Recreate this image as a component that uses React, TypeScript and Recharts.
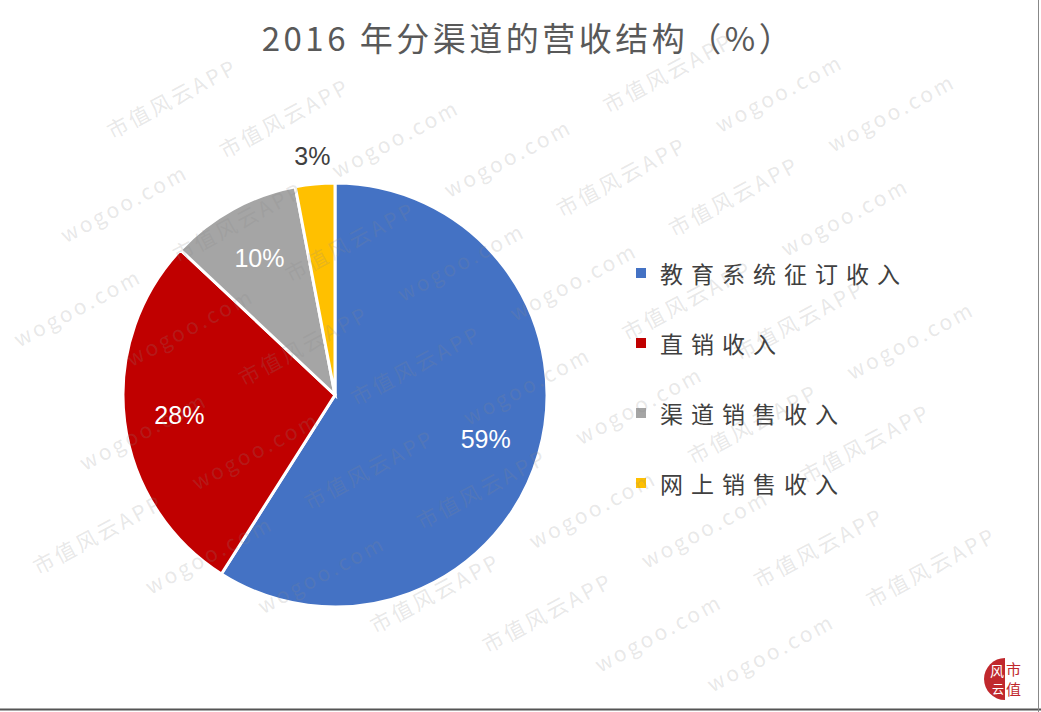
import React from 'react';
import { PieChart, Pie, Cell, Legend } from 'recharts';

const CATEGORIES = ['教育系统征订收入', '直销收入', '渠道销售收入', '网上销售收入'];
const SHARES = [59, 28, 10, 3];
const COLORS = ['#4472C4', '#C00000', '#A5A5A5', '#FFC000'];
const TITLE = '2016 年分渠道的营收结构（%）';
const WATERMARKS = ['wogoo.com', '市值风云APP'];

const DATA = CATEGORIES.map((name, i) => ({ name, value: SHARES[i] }));

const W = 1041;
const H = 712;
const RAD = Math.PI / 180;
const CJK = '"Noto Sans CJK SC", "Noto Sans", sans-serif';

const renderLabel = (props: any) => {
  const { cx, cy, midAngle, outerRadius, percent, index } = props;
  const outside = percent < 0.05;
  const r = outside ? outerRadius + 28 : outerRadius * 0.74;
  const x = cx + r * Math.cos(-midAngle * RAD);
  const y = cy + r * Math.sin(-midAngle * RAD);
  return (
    <text
      key={`lbl-${index}`}
      x={x}
      y={y}
      textAnchor="middle"
      dominantBaseline="central"
      fill={outside ? '#404040' : '#ffffff'}
      fontSize={25}
      fontFamily='"Liberation Sans", Arial, sans-serif'
    >
      {Math.round(percent * 100)}%
    </text>
  );
};

const renderLegend = () => (
  <div style={{ display: 'flex', flexDirection: 'column', gap: 40 }}>
    {CATEGORIES.map((name, i) => (
      <div key={name} style={{ display: 'flex', alignItems: 'center', height: 30 }}>
        <span style={{ width: 10, height: 10, background: COLORS[i], marginRight: 14 }} />
        <span
          style={{
            fontFamily: CJK,
            fontSize: 23,
            letterSpacing: 8,
            color: '#404040',
            lineHeight: '30px',
          }}
        >
          {name}
        </span>
      </div>
    ))}
  </div>
);

// faint diagonal watermark, only items that sit fully inside the frame
const Watermark: React.FC = () => {
  const ang = 28 * RAD;
  const c = Math.cos(ang);
  const s = Math.sin(ang);
  const len = 155;
  const items: React.ReactNode[] = [];
  for (let row = -10; row < 20; row++) {
    for (let col = -8; col < 12; col++) {
      const lx = col * 180 + (row % 2 ? 90 : 0);
      const ly = row * 70;
      const x0 = lx * c + ly * s;
      const y0 = 120 - lx * s + ly * c;
      const x1 = x0 + len * c;
      const y1 = y0 - len * s;
      const ys = [y0 + 6, y1 + 6, y0 - 24 * c, y1 - 24 * c];
      const xs = [x0, x1, x0 - 24 * s, x1 - 24 * s];
      if (Math.min(...xs) < 6 || Math.max(...xs) > W - 12) continue;
      if (Math.min(...ys) < 6 || Math.max(...ys) > H - 8) continue;
      items.push(
        <text
          key={`${row}-${col}`}
          x={lx}
          y={ly}
          fontSize={21}
          letterSpacing={3}
          fontFamily={CJK}
          fill="#8a8a8a"
          fillOpacity={0.2}
        >
          {WATERMARKS[(row + col + 40) % 2]}
        </text>
      );
    }
  }
  return (
    <svg width={W} height={H} style={{ position: 'absolute', left: 0, top: 0, pointerEvents: 'none' }}>
      <g transform="translate(0 120) rotate(-28)">{items}</g>
      <line x1={0} y1={709.5} x2={W} y2={709.5} stroke="#555" strokeWidth={2} />
      <line x1={1038.5} y1={0} x2={1038.5} y2={H} stroke="#888" strokeWidth={1} />
      <path d="M1005 658 A21 21 0 0 0 1005 700 Z" fill="#C0282D" />
      <text x={990} y={676} fontSize={14} fill="#fff" fontFamily={CJK}>风</text>
      <text x={992} y={694} fontSize={12} fill="#fff" fontFamily={CJK}>云</text>
      <text x={1006} y={675} fontSize={15} fill="#C0282D" fontFamily={CJK}>市</text>
      <text x={1006} y={695} fontSize={15} fill="#C0282D" fontFamily={CJK}>值</text>
    </svg>
  );
};

export default function App() {
  return (
    <div
      style={{
        position: 'absolute',
        left: 0,
        top: 0,
        width: W,
        height: H,
        background: '#ffffff',
        overflow: 'hidden',
      }}
    >
      <div
        style={{
          position: 'absolute',
          top: 13,
          left: 0,
          width: W,
          textAlign: 'center',
          paddingLeft: 16,
          boxSizing: 'border-box',
          fontFamily: CJK,
          fontSize: 33,
          letterSpacing: 3.5,
          color: '#595959',
          lineHeight: '48px',
        }}
      >
        {TITLE}
      </div>
      <PieChart
        width={W}
        height={H}
        margin={{ top: 0, right: 0, bottom: 0, left: 0 }}
        style={{ position: 'absolute', left: 0, top: 0 }}
      >
        <Pie
          data={DATA}
          dataKey="value"
          nameKey="name"
          cx={335}
          cy={395}
          outerRadius={212}
          startAngle={90}
          endAngle={-270}
          stroke="#ffffff"
          strokeWidth={3}
          label={renderLabel}
          labelLine={false}
          isAnimationActive={false}
        >
          {DATA.map((d, i) => (
            <Cell key={d.name} fill={COLORS[i]} />
          ))}
        </Pie>
        <Legend
          layout="vertical"
          align="right"
          verticalAlign="top"
          content={renderLegend}
          wrapperStyle={{ left: 636, top: 258, width: 320 }}
        />
      </PieChart>
      <Watermark />
    </div>
  );
}
